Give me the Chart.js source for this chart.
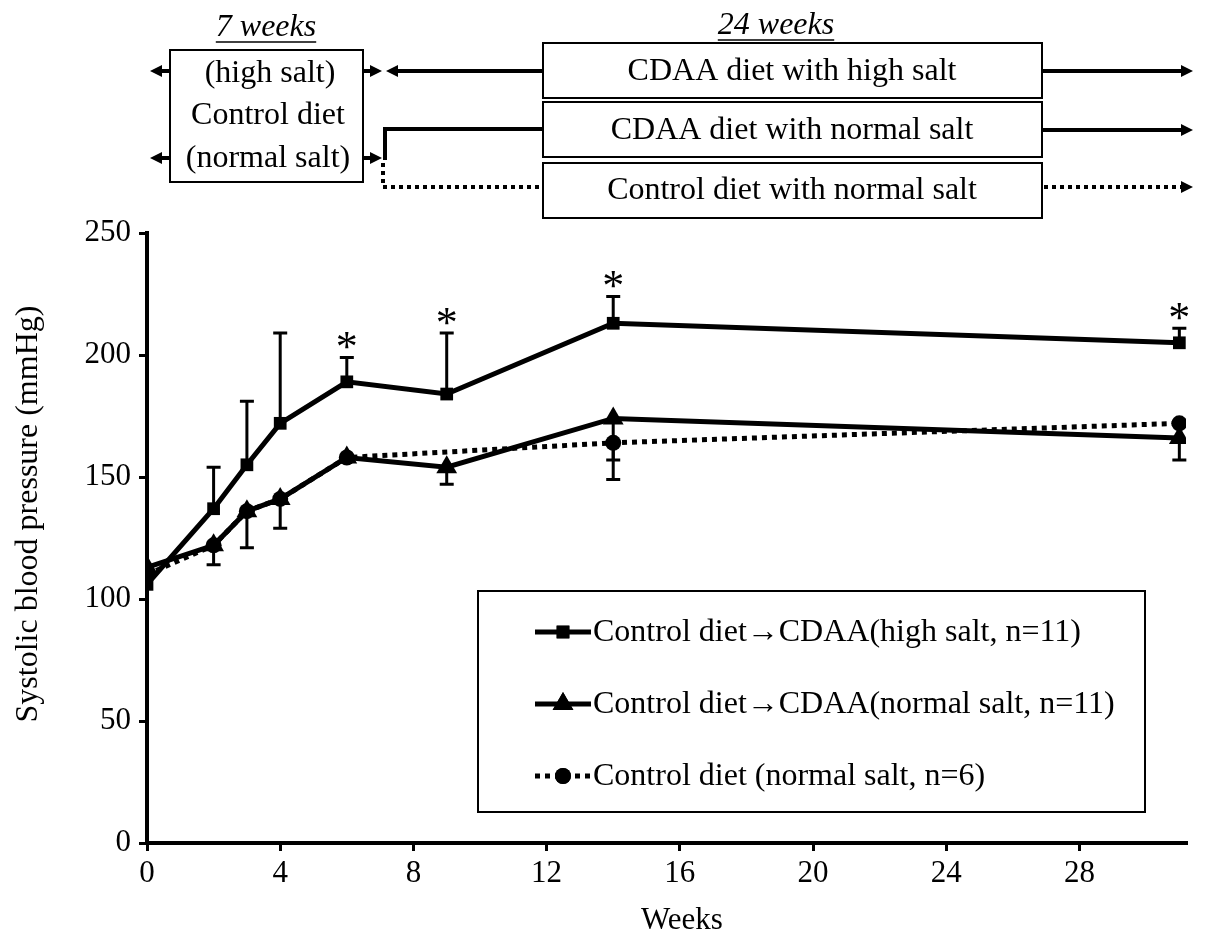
<!DOCTYPE html>
<html>
<head>
<meta charset="utf-8">
<script src="https://cdn.jsdelivr.net/npm/chart.js@4.4.1/dist/chart.umd.min.js"></script>
<style>
  body { margin: 0; background: #fff; }
  canvas { display: block; }
</style>
</head>
<body>
<canvas id="bpChart" width="1205" height="943"></canvas>
<script>
/* global Chart */

// weeks of measurement
let weeks = [0, 2, 3, 4, 6, 9, 14, 31];
let controlWeeks = [0, 2, 3, 4, 6, 14, 31];

// systolic blood pressure (mmHg)
let highSalt = [106, 137, 155, 172, 189, 184, 213, 205];
let highSaltErrTop = [null, 154, 181, 209, 199, 209, 224, 211];
let normalSalt = [113, 122, 136, 141, 158, 154, 174, 166];
let normalSaltErrLow = [null, 114, 121, 129, null, 147, 157, 157];
let control = [110, 122, 136, 141, 158, 164, 172];
let controlErrLow = [null, null, null, null, null, 149, null];

// weeks with a significant difference
let starWeeks = [6, 9, 14, 31];

let seriesLabels = [
  "Control diet\u2192CDAA(high salt, n=11)",
  "Control diet\u2192CDAA(normal salt, n=11)",
  "Control diet (normal salt, n=6)",
];
let xTitle = "Weeks";
let yTitle = "Systolic blood pressure (mmHg)";

let serif = "'Liberation Serif', 'Times New Roman', serif";

function toPoints(xs, ys) {
  return xs.map((x, i) => ({ x: x, y: ys[i] }));
}

// error bars: one-sided, drawn from the point to the given end value
let errorBars = {
  id: "errorBars",
  beforeDatasetsDraw(chart) {
    let ctx = chart.ctx;
    let xs = chart.scales.x;
    let ys = chart.scales.y;
    chart.data.datasets.forEach((ds) => {
      ds.errEnds.forEach((end, i) => {
        if (end === null) return;
        let px = xs.getPixelForValue(ds.data[i].x);
        let py = ys.getPixelForValue(ds.data[i].y);
        let pe = ys.getPixelForValue(end);
        ctx.save();
        ctx.strokeStyle = "#000";
        ctx.lineWidth = 3;
        ctx.beginPath();
        ctx.moveTo(px, py);
        ctx.lineTo(px, pe);
        ctx.moveTo(px - 7, pe);
        ctx.lineTo(px + 7, pe);
        ctx.stroke();
        ctx.restore();
      });
    });
  },
};

// asterisks above the high salt error bars
let stars = {
  id: "stars",
  afterDatasetsDraw(chart) {
    let ctx = chart.ctx;
    let xs = chart.scales.x;
    let ys = chart.scales.y;
    ctx.save();
    ctx.fillStyle = "#000";
    ctx.font = "44px " + serif;
    ctx.textAlign = "center";
    ctx.textBaseline = "alphabetic";
    starWeeks.forEach((w) => {
      let i = weeks.indexOf(w);
      let top = highSaltErrTop[i] !== null ? highSaltErrTop[i] : highSalt[i];
      ctx.fillText("*", xs.getPixelForValue(w), ys.getPixelForValue(top) + 4);
    });
    ctx.restore();
  },
};

// axis titles
let axisTitles = {
  id: "axisTitles",
  afterDraw(chart) {
    let ctx = chart.ctx;
    ctx.save();
    ctx.fillStyle = "#000";
    ctx.font = "31px " + serif;
    ctx.textAlign = "center";
    ctx.textBaseline = "middle";
    ctx.fillText(xTitle, 682, 921);
    ctx.translate(29, 514);
    ctx.rotate(-Math.PI / 2);
    ctx.font = "32px " + serif;
    ctx.fillText(yTitle, 0, 0);
    ctx.restore();
  },
};

// boxed legend inside the plot
let legendBox = {
  id: "legendBox",
  afterDraw(chart) {
    let ctx = chart.ctx;
    let left = 478, top = 591, w = 667, h = 221;
    ctx.save();
    ctx.fillStyle = "#fff";
    ctx.fillRect(left, top, w, h);
    ctx.strokeStyle = "#000";
    ctx.lineWidth = 2;
    ctx.strokeRect(left, top, w, h);
    chart.data.datasets.forEach((ds, i) => {
      let y = top + 41 + i * 72;
      ctx.save();
      ctx.strokeStyle = "#000";
      ctx.lineWidth = ds.borderWidth;
      ctx.setLineDash(ds.borderDash || []);
      ctx.beginPath();
      ctx.moveTo(535, y);
      ctx.lineTo(591, y);
      ctx.stroke();
      ctx.restore();
      ctx.fillStyle = "#000";
      Chart.helpers.drawPoint(ctx, {
        pointStyle: ds.pointStyle,
        radius: ds.pointRadius,
        rotation: 0,
        borderWidth: 0,
      }, 563, y);
      ctx.fill();
      ctx.fillStyle = "#000";
      ctx.font = "32px " + serif;
      ctx.textAlign = "left";
      ctx.textBaseline = "middle";
      ctx.fillText(seriesLabels[i], 593, y + 1);
    });
    ctx.restore();
  },
};

function arrowHead(ctx, x, y, dir) {
  ctx.beginPath();
  ctx.moveTo(x, y);
  ctx.lineTo(x - dir * 12, y - 6);
  ctx.lineTo(x - dir * 12, y + 6);
  ctx.closePath();
  ctx.fill();
}

// study design diagram above the plot
let design = {
  id: "design",
  afterDraw(chart) {
    let ctx = chart.ctx;
    ctx.save();
    ctx.fillStyle = "#000";
    ctx.strokeStyle = "#000";

    // period headings
    ctx.font = "italic 32px " + serif;
    ctx.textAlign = "center";
    ctx.textBaseline = "alphabetic";
    [["7 weeks", 266, 36], ["24 weeks", 776, 34]].forEach(([t, x, y]) => {
      ctx.fillText(t, x, y);
      let tw = ctx.measureText(t).width;
      ctx.lineWidth = 1.5;
      ctx.beginPath();
      ctx.moveTo(x - tw / 2, y + 6);
      ctx.lineTo(x + tw / 2, y + 6);
      ctx.stroke();
    });

    // boxes
    ctx.lineWidth = 2;
    ctx.strokeRect(170, 50, 193, 132);
    ctx.strokeRect(543, 43, 499, 55);
    ctx.strokeRect(543, 102, 499, 55);
    ctx.strokeRect(543, 163, 499, 55);

    ctx.font = "32px " + serif;
    ctx.textBaseline = "middle";
    ctx.fillText("(high salt)", 270, 74);
    ctx.fillText("Control diet", 268, 116);
    ctx.fillText("(normal salt)", 268, 159);
    ctx.fillText("CDAA diet with high salt", 792, 72);
    ctx.fillText("CDAA diet with normal salt", 792, 131);
    ctx.fillText("Control diet with normal salt", 792, 191);

    // arrows and connectors
    ctx.lineWidth = 4;
    ctx.beginPath();
    ctx.moveTo(170, 71); ctx.lineTo(160, 71);
    ctx.moveTo(170, 158); ctx.lineTo(160, 158);
    ctx.moveTo(363, 71); ctx.lineTo(372, 71);
    ctx.moveTo(363, 158); ctx.lineTo(372, 158);
    ctx.moveTo(396, 71); ctx.lineTo(543, 71);
    ctx.moveTo(385, 160); ctx.lineTo(385, 129); ctx.lineTo(543, 129);
    ctx.moveTo(1042, 71); ctx.lineTo(1182, 71);
    ctx.moveTo(1042, 130); ctx.lineTo(1182, 130);
    ctx.stroke();
    arrowHead(ctx, 150, 71, -1);
    arrowHead(ctx, 150, 158, -1);
    arrowHead(ctx, 382, 71, 1);
    arrowHead(ctx, 382, 158, 1);
    arrowHead(ctx, 386, 71, -1);
    arrowHead(ctx, 1193, 71, 1);
    arrowHead(ctx, 1193, 130, 1);
    arrowHead(ctx, 1193, 187, 1);

    ctx.setLineDash([4, 4]);
    ctx.lineWidth = 4;
    ctx.beginPath();
    ctx.moveTo(383, 163); ctx.lineTo(383, 187); ctx.lineTo(543, 187);
    ctx.moveTo(1044, 187); ctx.lineTo(1182, 187);
    ctx.stroke();
    ctx.restore();
  },
};

let ctx = document.getElementById("bpChart").getContext("2d");
let bpChart = new Chart(ctx, {
  type: "line",
  data: {
    datasets: [
      {
        label: seriesLabels[0],
        data: toPoints(weeks, highSalt),
        errEnds: highSaltErrTop,
        borderColor: "#000",
        backgroundColor: "#000",
        borderWidth: 5,
        pointStyle: "rect",
        pointRadius: 9,
        pointBorderWidth: 0,
        tension: 0,
        order: 1,
      },
      {
        label: seriesLabels[1],
        data: toPoints(weeks, normalSalt),
        errEnds: normalSaltErrLow,
        borderColor: "#000",
        backgroundColor: "#000",
        borderWidth: 5,
        pointStyle: "triangle",
        pointRadius: 12,
        pointBorderWidth: 0,
        tension: 0,
        order: 2,
      },
      {
        label: seriesLabels[2],
        data: toPoints(controlWeeks, control),
        errEnds: controlErrLow,
        borderColor: "#000",
        backgroundColor: "#000",
        borderWidth: 5,
        borderDash: [5, 5],
        pointStyle: "circle",
        pointRadius: 8,
        pointBorderWidth: 0,
        tension: 0,
        order: 3,
      },
    ],
  },
  options: {
    responsive: false,
    animation: false,
    devicePixelRatio: 1,
    layout: {
      padding: { top: 233, right: 19, left: 0, bottom: 0 },
    },
    plugins: {
      legend: { display: false },
      tooltip: { enabled: false },
    },
    scales: {
      x: {
        type: "linear",
        min: 0,
        max: 31.2,
        ticks: {
          stepSize: 4,
          includeBounds: false,
          color: "#000",
          padding: 4,
          font: { family: serif, size: 31 },
        },
        grid: {
          display: true,
          drawOnChartArea: false,
          drawTicks: true,
          tickLength: 8,
          color: "#000",
          lineWidth: 3,
        },
        border: { display: true, color: "#000", width: 4 },
        afterFit(scale) {
          scale.height = 100;
        },
      },
      y: {
        min: 0,
        max: 250,
        ticks: {
          stepSize: 50,
          color: "#000",
          padding: 8,
          font: { family: serif, size: 31 },
        },
        grid: {
          display: true,
          drawOnChartArea: false,
          drawTicks: true,
          tickLength: 8,
          color: "#000",
          lineWidth: 3,
        },
        border: { display: true, color: "#000", width: 4 },
        afterFit(scale) {
          scale.width = 147;
        },
      },
    },
  },
  plugins: [errorBars, stars, axisTitles, legendBox, design],
});
</script>
</body>
</html>
